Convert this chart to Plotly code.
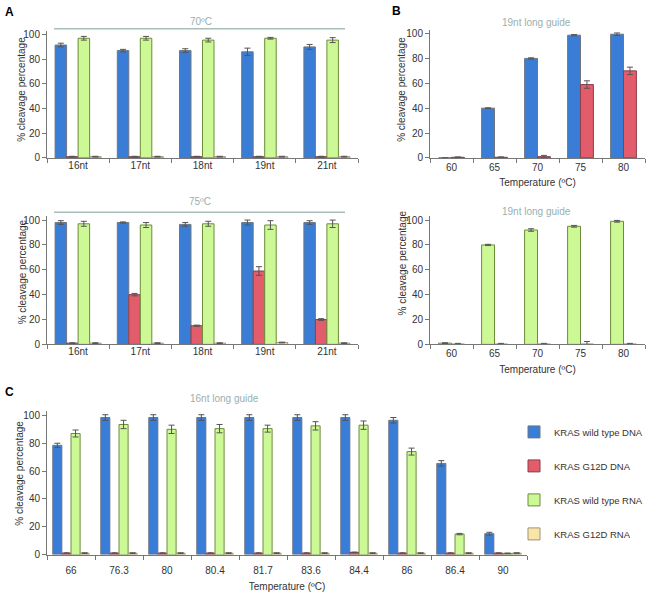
import plotly.graph_objects as go

W, H = 652, 601

SERIES = ["KRAS wild type DNA", "KRAS G12D DNA", "KRAS wild type RNA", "KRAS G12D RNA"]
FILL = ["#3A7DD6", "#E25C6B", "#CDF896", "#F8E6A8"]
EDGE = ["#6F7782", "#8C3F49", "#6C8C3A", "#A09274"]
TITLE_COLOR = "#9AB0AE"

# ---------------- Panel A (guide length) ----------------
A_CATS = ["16nt", "17nt", "18nt", "19nt", "21nt"]

A70_WT_DNA = [91.5, 87, 87, 86, 90]
A70_WT_DNA_ERR = [1.5, 1, 1.5, 3, 2]
A70_G12D_DNA = [1, 1, 1, 1, 1]
A70_G12D_DNA_ERR = [0.3, 0.3, 0.3, 0.3, 0.3]
A70_WT_RNA = [97, 97, 95.5, 97, 95.5]
A70_WT_RNA_ERR = [1.5, 1.5, 1.5, 0.7, 2]
A70_G12D_RNA = [1, 1, 1, 1, 1]
A70_G12D_RNA_ERR = [0.3, 0.3, 0.3, 0.3, 0.3]

A75_WT_DNA = [98, 98, 96.5, 98, 98]
A75_WT_DNA_ERR = [1.5, 0.5, 1.5, 2, 1.5]
A75_G12D_DNA = [1, 40, 15, 59, 20]
A75_G12D_DNA_ERR = [0.3, 1, 0.5, 3.5, 0.7]
A75_WT_RNA = [97, 96, 97, 96, 97]
A75_WT_RNA_ERR = [2, 2, 2, 3.5, 3]
A75_G12D_RNA = [1, 1, 1, 1.5, 1]
A75_G12D_RNA_ERR = [0.3, 0.3, 0.3, 0.3, 0.3]

# ---------------- Panel B (19nt guide, temperature) ----------------
B_CATS = ["60", "65", "70", "75", "80"]

B_WT_DNA = [0, 40, 80, 98.7, 99.5]
B_WT_DNA_ERR = [0, 0.3, 0.5, 0.5, 1]
B_G12D_DNA = [0.5, 0.5, 1, 59, 70]
B_G12D_DNA_ERR = [0.3, 0.3, 1, 3, 3]

B_WT_RNA = [1, 80, 92, 95, 99]
B_WT_RNA_ERR = [0.3, 0.5, 1, 0.7, 0.7]
B_G12D_RNA = [0.3, 0.3, 0.3, 0.3, 0.3]
B_G12D_RNA_ERR = [0.5, 0.5, 0.5, 2, 0.5]

# ---------------- Panel C (16nt guide, temperature) ----------------
C_CATS = ["66", "76.3", "80", "80.4", "81.7", "83.6", "84.4", "86", "86.4", "90"]

C_WT_DNA = [78.5, 98.5, 98.5, 98.5, 98.5, 98.5, 98.5, 96.5, 65.5, 15]
C_WT_DNA_ERR = [1.5, 2, 2, 2, 2, 2, 2, 2, 2, 1]
C_G12D_DNA = [1, 1, 1, 1, 1, 1, 1.5, 1, 1, 1]
C_G12D_DNA_ERR = [0.3, 0.3, 0.3, 0.3, 0.3, 0.3, 0.3, 0.3, 0.3, 0.3]
C_WT_RNA = [87, 93.5, 90, 90.5, 90.5, 92.5, 93, 74, 14.7, 0.8]
C_WT_RNA_ERR = [2.5, 3, 3, 3, 2.5, 3, 3, 2.5, 0.5, 0.3]
C_G12D_RNA = [1, 1, 1, 1, 1, 1, 1, 1, 1, 1]
C_G12D_RNA_ERR = [0.3, 0.3, 0.3, 0.3, 0.3, 0.3, 0.3, 0.3, 0.3, 0.3]

FONT = "Arial, Liberation Sans, sans-serif"
YTITLE = "% cleavage percentage"
XTITLE = "Temperature (ºC)"


def fx(p):
    return p / W


def fy(p):
    return 1 - p / H


fig = go.Figure()


def add_panel(n, cats, series_idx, values, errors, width, showlegend=False):
    total = width * len(series_idx)
    for k, (si, vals, errs) in enumerate(zip(series_idx, values, errors)):
        fig.add_trace(go.Bar(
            x=cats, y=vals, name=SERIES[si],
            width=width, offset=-total / 2 + k * width,
            marker=dict(color=FILL[si], line=dict(color=EDGE[si], width=1)),
            error_y=dict(type="data", array=errs, visible=True,
                         color="#555555", thickness=1, width=3),
            xaxis="x" if n == 1 else f"x{n}", yaxis="y" if n == 1 else f"y{n}",
            legendgroup=SERIES[si], showlegend=showlegend,
        ))


add_panel(1, A_CATS, [0, 1, 2, 3],
          [A70_WT_DNA, A70_G12D_DNA, A70_WT_RNA, A70_G12D_RNA],
          [A70_WT_DNA_ERR, A70_G12D_DNA_ERR, A70_WT_RNA_ERR, A70_G12D_RNA_ERR], 0.185)
add_panel(2, A_CATS, [0, 1, 2, 3],
          [A75_WT_DNA, A75_G12D_DNA, A75_WT_RNA, A75_G12D_RNA],
          [A75_WT_DNA_ERR, A75_G12D_DNA_ERR, A75_WT_RNA_ERR, A75_G12D_RNA_ERR], 0.185)
add_panel(3, B_CATS, [0, 1], [B_WT_DNA, B_G12D_DNA], [B_WT_DNA_ERR, B_G12D_DNA_ERR], 0.3)
add_panel(4, B_CATS, [2, 3], [B_WT_RNA, B_G12D_RNA], [B_WT_RNA_ERR, B_G12D_RNA_ERR], 0.3)
add_panel(5, C_CATS, [0, 1, 2, 3],
          [C_WT_DNA, C_G12D_DNA, C_WT_RNA, C_G12D_RNA],
          [C_WT_DNA_ERR, C_G12D_DNA_ERR, C_WT_RNA_ERR, C_G12D_RNA_ERR], 0.19, showlegend=True)


def xd(a, b):
    return [fx(a), fx(b)]


def yd(p0, p100, top=103):
    ptop = p0 - (p0 - p100) * top / 100
    return [fy(p0), fy(ptop)]


def xaxis(n, dom, title=None, standoff=0, tstandoff=8):
    d = dict(domain=dom, type="category", anchor="y" if n == 1 else f"y{n}",
             showline=True, linecolor="#777777", linewidth=1,
             ticks="outside", tickson="boundaries", ticklen=4, tickcolor="#777777",
             tickfont=dict(size=10, color="#333333", family=FONT),
             showgrid=False, zeroline=False, ticklabelstandoff=standoff)
    if title:
        d["title"] = dict(text=title, font=dict(size=10, color="#333333", family=FONT),
                          standoff=tstandoff)
    return d


def yaxis(n, dom):
    return dict(domain=dom, range=[0, 103], anchor="x" if n == 1 else f"x{n}",
                showline=True, linecolor="#777777", linewidth=1,
                ticks="outside", ticklen=4, tickcolor="#777777",
                tickvals=[0, 20, 40, 60, 80, 100],
                tickfont=dict(size=10, color="#333333", family=FONT),
                showgrid=False, zeroline=False)


layout = dict(
    width=W, height=H, margin=dict(l=0, r=0, t=0, b=0),
    paper_bgcolor="white", plot_bgcolor="white",
    barmode="overlay", showlegend=True, hovermode=False,
    font=dict(family=FONT, size=10, color="#333333"),
    legend=dict(x=fx(514), y=fy(421), xanchor="left", yanchor="top",
                font=dict(size=9.5, color="#333333", family=FONT),
                traceorder="grouped", tracegroupgap=15, bgcolor="rgba(0,0,0,0)"),
    xaxis=xaxis(1, xd(47, 358), standoff=-2),
    yaxis=yaxis(1, yd(158, 33)),
    xaxis2=xaxis(2, xd(47, 358), standoff=-2),
    yaxis2=yaxis(2, yd(347, 221)),
    xaxis3=xaxis(3, xd(430, 645), XTITLE, tstandoff=7),
    yaxis3=yaxis(3, yd(158, 32)),
    xaxis4=xaxis(4, xd(430, 645), XTITLE, tstandoff=7),
    yaxis4=yaxis(4, yd(347, 221)),
    xaxis5=xaxis(5, xd(47, 527), XTITLE, standoff=6, tstandoff=8),
    yaxis5=yaxis(5, yd(560, 419)),
)

annots = []


def ann(text, x, y, size=10, color=TITLE_COLOR, bold=False, angle=0,
        xanchor="center", yanchor="middle"):
    annots.append(dict(text=f"<b>{text}</b>" if bold else text, x=fx(x), y=fy(y),
                       xref="paper", yref="paper", showarrow=False, textangle=angle,
                       font=dict(size=size, color=color, family=FONT),
                       xanchor=xanchor, yanchor=yanchor, borderpad=0))


ann("70ºC", 201, 20)
ann("75ºC", 200, 202)
ann("19nt long guide", 536, 21)
ann("19nt long guide", 536, 212)
ann("16nt long guide", 224, 402)
ann("A", 9, 10, size=12, color="#000000", bold=True)
ann("B", 396, 9, size=12, color="#000000", bold=True)
ann("C", 9, 395, size=12, color="#000000", bold=True)
ann(YTITLE, 22, 89, color="#333333", angle=-90)
ann(YTITLE, 22, 274, color="#333333", angle=-90)
ann(YTITLE, 402, 89, color="#333333", angle=-90)
ann(YTITLE, 402, 265, color="#333333", angle=-90)
ann(YTITLE, 20, 478, color="#333333", angle=-90)
layout["annotations"] = annots

layout["shapes"] = [
    dict(type="line", xref="paper", yref="paper", x0=fx(54), x1=fx(345),
         y0=fy(27), y1=fy(27), line=dict(color="#A9BDBB", width=1.5)),
    dict(type="line", xref="paper", yref="paper", x0=fx(54), x1=fx(345),
         y0=fy(213), y1=fy(213), line=dict(color="#A9BDBB", width=1.5)),
]

fig.update_layout(**layout)
# remove the default page margin so the figure fills the 652x601 window exactly
fig.write_html("out.html",
               config={"displayModeBar": False, "staticPlot": True},
               post_script="document.body.style.margin='0';"
                           "document.body.style.overflow='hidden';")
